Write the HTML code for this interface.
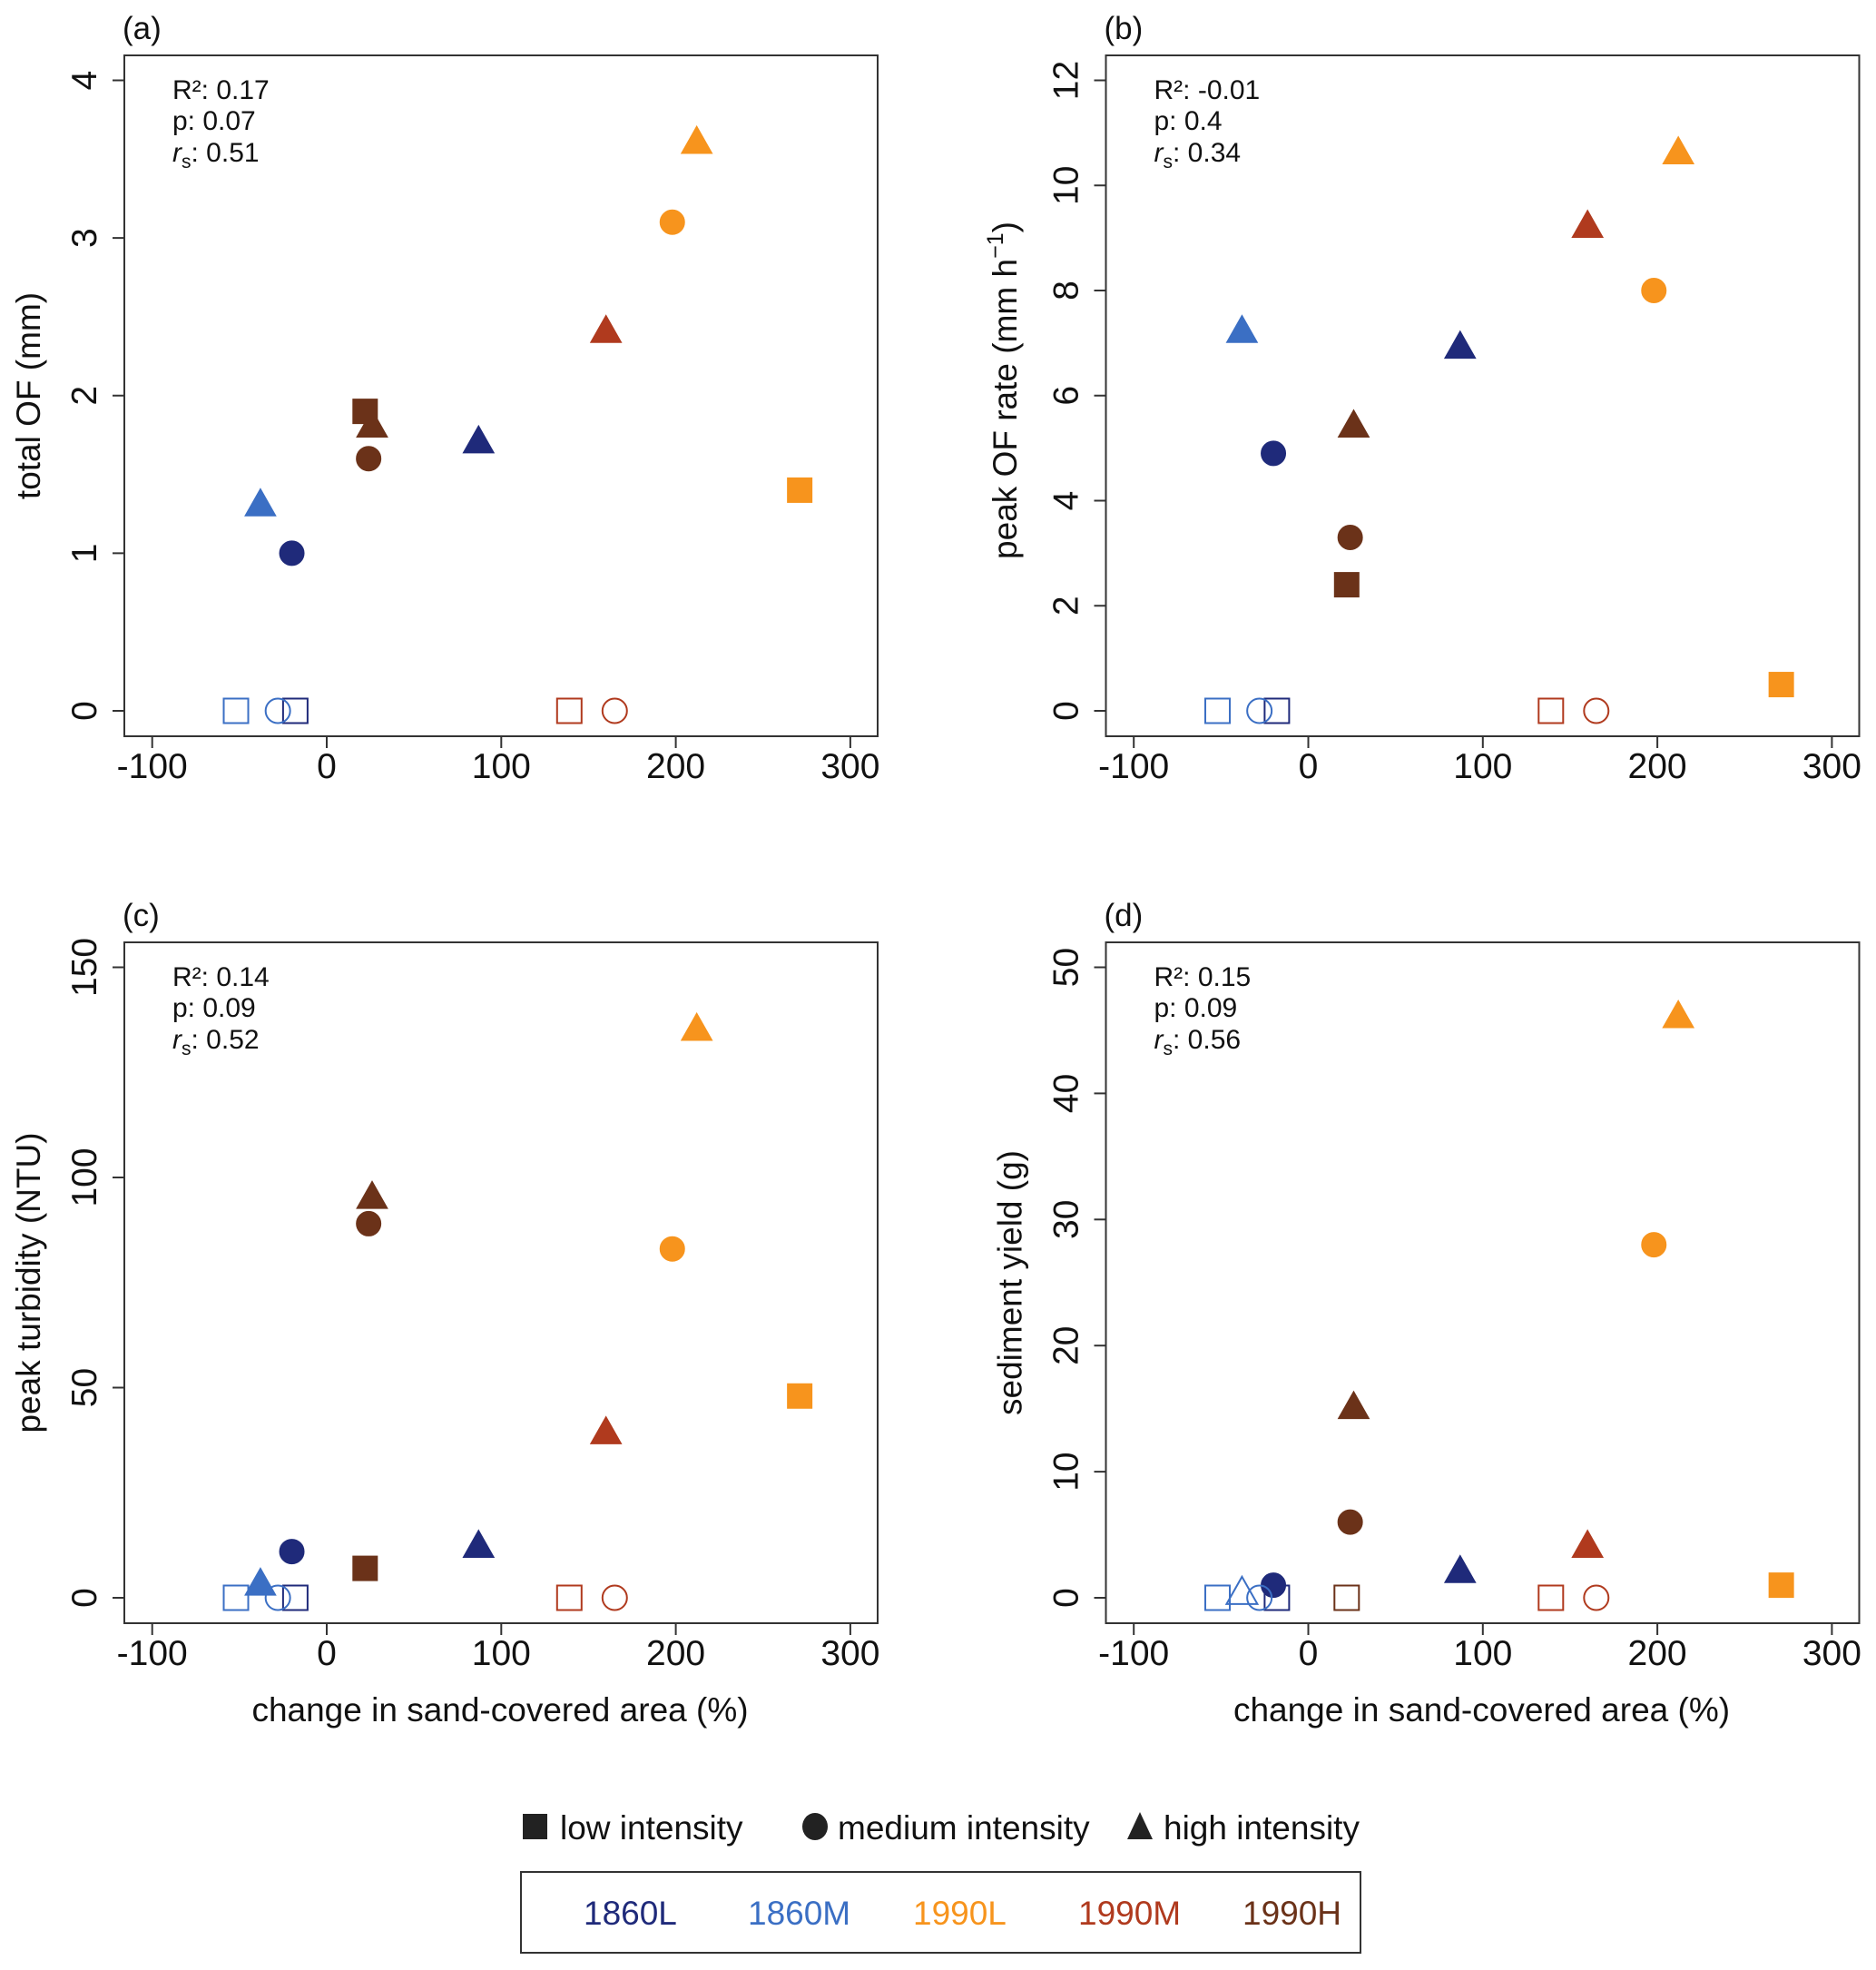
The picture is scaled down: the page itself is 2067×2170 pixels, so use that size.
<!DOCTYPE html>
<html><head><meta charset="utf-8"><style>
html,body{margin:0;padding:0;background:#fff}
svg{display:block;font-family:"Liberation Sans",Arial,sans-serif}
</style></head><body>
<svg id="fig" width="2067" height="2170" viewBox="0 0 2067 2170" xmlns="http://www.w3.org/2000/svg">
<g id="panels"></g>
<g font-size="37" fill="#111">
  <rect x="576" y="1998" width="27" height="28" fill="#222"/>
  <text x="617" y="2026">low intensity</text>
  <ellipse cx="898" cy="2012" rx="14" ry="15" fill="#222"/>
  <text x="923" y="2026">medium intensity</text>
  <polygon points="1256,1996 1270,2026 1242,2026" fill="#222"/>
  <text x="1282" y="2026">high intensity</text>
</g>
<g font-size="37">
  <rect x="574" y="2062" width="925" height="89" fill="none" stroke="#333" stroke-width="2"/>
  <text x="643" y="2120" fill="#1f2a7a">1860L</text>
  <text x="824" y="2120" fill="#3b6fc4">1860M</text>
  <text x="1006" y="2120" fill="#f7941d">1990L</text>
  <text x="1188" y="2120" fill="#b03a1e">1990M</text>
  <text x="1369" y="2120" fill="#6b3219">1990H</text>
</g>
</svg>
<script>
const groups = ["1860L","1860M","1990L","1990M","1990H"];
const colors = ["#1f2a7a","#3b6fc4","#f7941d","#b03a1e","#6b3219"];
// x values per group: [low(square), medium(circle), high(triangle)]
const xLow = [-18,-52,271,139,22];
const xMed = [-20,-28,198,165,24];
const xHigh = [87,-38,212,160,26];
// panel a: total OF (mm)
const aLow = [0,0,1.4,0,1.9];
const aMed = [1.0,0,3.1,0,1.6];
const aHigh = [1.7,1.3,3.6,2.4,1.8];
const aTicks = [0,1,2,3,4];
// panel b: peak OF rate
const bLow = [0,0,0.5,0,2.4];
const bMed = [4.9,0,8.0,0,3.3];
const bHigh = [6.9,7.2,10.6,9.2,5.4];
const bTicks = [0,2,4,6,8,10,12];
// panel c: peak turbidity
const cLow = [0,0,48,0,7];
const cMed = [11,0,83,0,89];
const cHigh = [12,3,135,39,95];
const cTicks = [0,50,100,150];
// panel d: sediment yield
const dLow = [0,0,1,0,0];
const dMed = [1,0,28,0,6];
const dHigh = [2,0.3,46,4,15];
const dTicks = [0,10,20,30,40,50];
const xTicks = [-100,0,100,200,300];
// open (no measured runoff) flags
const dOpenHigh = [false,true,false,false,false];
const dOpenLow = [true,true,false,true,true];
const stdOpenLow = [true,true,false,true,false];
const stdOpenMed = [false,true,false,true,false];

const NS="http://www.w3.org/2000/svg";
const root=document.getElementById('panels');
function mk(tag,attrs,parent){const e=document.createElementNS(NS,tag);for(const k in attrs)e.setAttribute(k,attrs[k]);parent.appendChild(e);return e;}

const panels=[
 {id:'a',ox:0,oy:0,low:aLow,med:aMed,high:aHigh,ticks:aTicks,ymax:4,stats:['0.17','0.07','0.51'],title:'total OF (mm)',xt:false,openLow:stdOpenLow,openMed:stdOpenMed,openHigh:[false,false,false,false,false]},
 {id:'b',ox:1081.5,oy:0,low:bLow,med:bMed,high:bHigh,ticks:bTicks,ymax:12,stats:['-0.01','0.4','0.34'],title:'peak OF rate',xt:false,openLow:stdOpenLow,openMed:stdOpenMed,openHigh:[false,false,false,false,false]},
 {id:'c',ox:0,oy:977,low:cLow,med:cMed,high:cHigh,ticks:cTicks,ymax:150,stats:['0.14','0.09','0.52'],title:'peak turbidity (NTU)',xt:true,openLow:stdOpenLow,openMed:stdOpenMed,openHigh:[false,false,false,false,false]},
 {id:'d',ox:1081.5,oy:977,low:dLow,med:dMed,high:dHigh,ticks:dTicks,ymax:50,stats:['0.15','0.09','0.56'],title:'sediment yield (g)',xt:true,openLow:dOpenLow,openMed:stdOpenMed,openHigh:dOpenHigh}
];

panels.forEach(p=>{
  const g=mk('g',{},root);
  
  
  const L=137+p.ox,R=967+p.ox,T=61+p.oy,B=811+p.oy;
  const y0=783+p.oy,yTop=88.5+p.oy;
  const sx=v=>360+p.ox+v*1.923;
  const sy=v=>y0-(v/p.ymax)*(y0-yTop);
  const box=mk('rect',{x:L,y:T,width:R-L,height:B-T,fill:'none',stroke:'#333','stroke-width':2},g);
  
  
  const lab=mk('text',{x:135+p.ox,y:43+p.oy,'font-size':35,fill:'#111'},g);lab.textContent='('+p.id+')';
  
  
  xTicks.forEach(v=>{
    const x=sx(v);
    mk('line',{x1:x,y1:B,x2:x,y2:B+13,stroke:'#333','stroke-width':2},g);
    const t=mk('text',{x:x,y:B+46,'font-size':39,'text-anchor':'middle',fill:'#111'},g);t.textContent=String(v);
    
    
  });
  p.ticks.forEach(v=>{
    const y=sy(v);
    mk('line',{x1:L-13,y1:y,x2:L,y2:y,stroke:'#333','stroke-width':2},g);
    const t=mk('text',{x:0,y:0,'font-size':39,'text-anchor':'middle',fill:'#111',transform:`translate(${L-31},${y}) rotate(-90)`},g);t.textContent=String(v);
    
    
  });
  const yt=mk('text',{x:0,y:0,'font-size':37,'text-anchor':'middle',fill:'#111',transform:`translate(${p.ox+(p.id==='b'?1120-1081.5:44)},${(p.id==='b'?430:436)+p.oy}) rotate(-90)`},g);
  if(p.id==='b'){yt.innerHTML='peak OF rate (mm h<tspan font-size="25" dy="-15">−1</tspan><tspan dy="15">)</tspan>';}else yt.textContent=p.title;
  
  
  if(p.xt){const xt=mk('text',{x:551+p.ox,y:1896,'font-size':37,'text-anchor':'middle',fill:'#111'},g);xt.textContent='change in sand-covered area (%)';
    
    }
  const st=mk('text',{x:190+p.ox,y:109+p.oy,'font-size':30,fill:'#111'},g);
  st.innerHTML=`<tspan x="${190+p.ox}">R²: ${p.stats[0]}</tspan><tspan x="${190+p.ox}" dy="34">p: ${p.stats[1]}</tspan><tspan x="${190+p.ox}" dy="35" font-style="italic">r</tspan><tspan font-size="21" dy="7">s</tspan><tspan dy="-7">: ${p.stats[2]}</tspan>`;
  
  
  groups.forEach((gr,i)=>{
    const c=colors[i];
    let x=sx(xLow[i]),y=sy(p.low[i]);let o=p.openLow[i];
    const sq=mk('rect',{x:x-13.5,y:y-13.5,width:27,height:27,fill:o?'none':c,stroke:c,'stroke-width':o?2:1},g);
    
    
    x=sx(xMed[i]);y=sy(p.med[i]);o=p.openMed[i];
    const ci=mk('circle',{cx:x,cy:y,r:13.5,fill:o?'none':c,stroke:c,'stroke-width':o?2:1},g);
    
    
    x=sx(xHigh[i]);y=sy(p.high[i]);o=p.openHigh[i];
    const tr=mk('polygon',{points:`${x},${y-19} ${x+17},${y+11} ${x-17},${y+11}`,fill:o?'none':c,stroke:c,'stroke-width':o?2:1},g);
    
    
  });
});
</script>
</body></html>
